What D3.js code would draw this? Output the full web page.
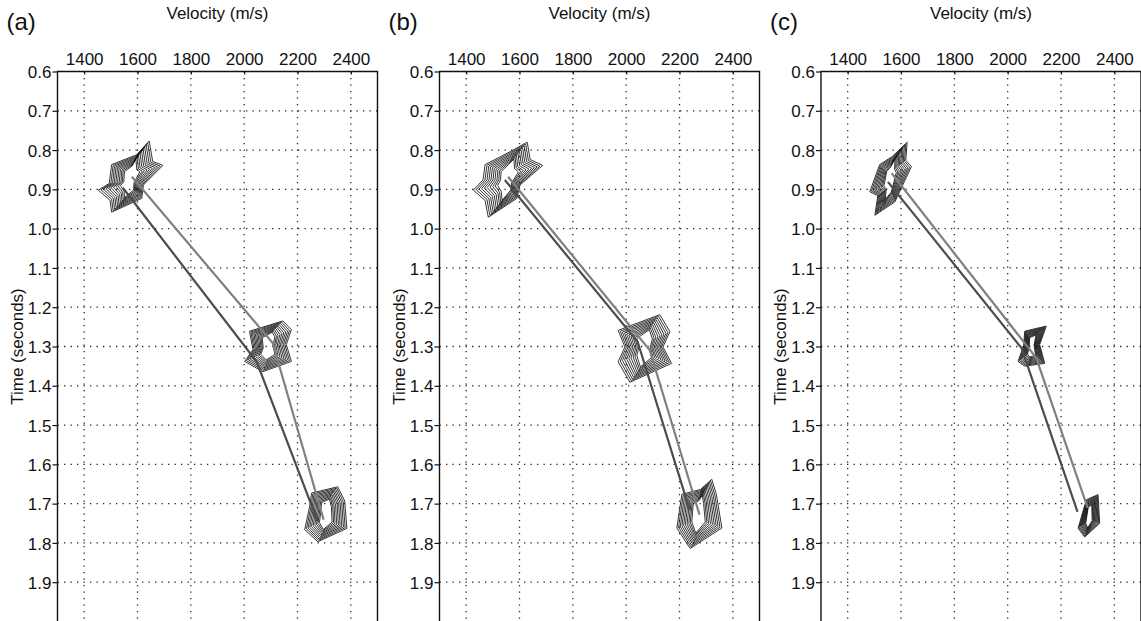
<!DOCTYPE html>
<html>
<head>
<meta charset="utf-8">
<script src="https://cdn.jsdelivr.net/npm/d3@7"></script>
<style>
  html, body { margin: 0; padding: 0; background: #fff; }
  svg { display: block; }
  text { font-family: "Liberation Sans", Arial, Helvetica, sans-serif; fill: #111; }
</style>
</head>
<body>
<svg id="chart" width="1141" height="621"></svg>
<script>
// ---- data ---------------------------------------------------------------
const panelLabels = ["(a)", "(b)", "(c)"];
const velocityTicks = [1400, 1600, 1800, 2000, 2200, 2400];
const timeTicks = [0.6, 0.7, 0.8, 0.9, 1.0, 1.1, 1.2, 1.3, 1.4, 1.5, 1.6, 1.7, 1.8, 1.9];
const velocityDomain = [1300, 2500];
const timeDomain = [0.6, 2.0];

// picked velocity functions (velocity m/s, time s): dark and light trace per panel
const darkPicksA  = [[1545, 0.896], [2047, 1.339], [2276, 1.746]];
const lightPicksA = [[1579, 0.868], [2107, 1.291], [2298, 1.741]];
const darkPicksB  = [[1545, 0.876], [2043, 1.288], [2238, 1.716]];
const lightPicksB = [[1557, 0.868], [2088, 1.309], [2275, 1.728]];
const darkPicksC  = [[1551, 0.881], [2052, 1.304], [2262, 1.721]];
const lightPicksC = [[1565, 0.859], [2107, 1.329], [2300, 1.711]];

// semblance peak centres (velocity, time) per panel
const peakCentresA = [[1572, 0.876], [2088, 1.298], [2306, 1.727]];
const peakCentresB = [[1557, 0.876], [2070, 1.304], [2270, 1.728]];
const peakCentresC = [[1558, 0.876], [2090, 1.298], [2305, 1.734]];

// outermost contour of each peak, as (dv, dt) offsets from its centre
const peakOutlinesA = [
  [[72,-0.099],[85,-0.047],[123,-0.037],[50,0.013],[44,0.047],[-69,0.082],[-75,0.052],[-119,0.026],[-78,0.009],[-69,-0.039],[25,-0.064]],
  [[-68,-0.037],[57,-0.063],[89,-0.041],[70,-0.003],[89,0.040],[-18,0.066],[-86,0.040],[-55,0.010]],
  [[-53,-0.054],[45,-0.070],[71,-0.034],[79,0.036],[-30,0.070],[-79,0.039],[-60,-0.021]]
];
const peakOutlinesB = [
  [[72,-0.096],[83,-0.052],[130,-0.037],[45,0.013],[33,0.047],[-74,0.095],[-86,0.052],[-130,0.026],[-94,0.000],[-86,-0.039],[8,-0.072]],
  [[-100,-0.045],[56,-0.085],[94,-0.042],[68,-0.003],[100,0.039],[-56,0.087],[-100,0.035],[-75,-0.003]],
  [[51,-0.090],[68,-0.052],[89,0.034],[-30,0.086],[-80,0.034],[-61,-0.052],[8,-0.064]]
];
const peakOutlinesC = [
  [[65,-0.096],[60,-0.050],[81,-0.034],[19,0.056],[-56,0.090],[-45,0.040],[-75,0.030],[-38,-0.039],[10,-0.060]],
  [[-26,-0.037],[55,-0.050],[30,-0.003],[49,0.045],[-26,0.052],[-51,0.040],[-30,0.000]],
  [[34,-0.057],[40,0.016],[-16,0.051],[-41,0.029],[-10,-0.044]]
];

// relative contour levels (horizontal / vertical shrink of each nested contour)
const contourScaleV = [1.00, 0.92, 0.84, 0.76, 0.68, 0.60, 0.52, 0.44, 0.37, 0.30];
const contourScaleT = [1.00, 0.95, 0.90, 0.85, 0.80, 0.75, 0.70, 0.65, 0.60, 0.55];

const panels = [
  { label: panelLabels[0], dark: darkPicksA, light: lightPicksA, centres: peakCentresA, outlines: peakOutlinesA },
  { label: panelLabels[1], dark: darkPicksB, light: lightPicksB, centres: peakCentresB, outlines: peakOutlinesB },
  { label: panelLabels[2], dark: darkPicksC, light: lightPicksC, centres: peakCentresC, outlines: peakOutlinesC }
];

// ---- layout -------------------------------------------------------------
const svg = d3.select("#chart");
const FONT = '"Liberation Sans", Arial, Helvetica, sans-serif';
const panelLeft = [57.5, 439.5, 821];
const plotTop = 71.5;
const plotW = 320;
const plotH = 550;

panels.forEach((p, i) => {
  const g = svg.append("g").attr("transform", `translate(${panelLeft[i]},${plotTop})`);
  const x = d3.scaleLinear().domain(velocityDomain).range([0, plotW]);
  const y = d3.scaleLinear().domain(timeDomain).range([0, plotH]);

  // dotted grid
  const grid = g.append("g").attr("stroke", "#222").attr("stroke-width", 1.3)
    .attr("stroke-dasharray", "1.3,5.2");
  grid.selectAll("line.v").data(velocityTicks).join("line")
    .attr("x1", d => x(d)).attr("x2", d => x(d)).attr("y1", 0).attr("y2", plotH);
  grid.selectAll("line.h").data(timeTicks.filter(t => t > timeDomain[0])).join("line")
    .attr("y1", d => y(d)).attr("y2", d => y(d)).attr("x1", 0).attr("x2", plotW);

  // semblance contours
  const cg = g.append("g").attr("fill", "none").attr("stroke", "#111").attr("stroke-width", 0.85)
    .attr("stroke-linejoin", "miter");
  p.centres.forEach((c, k) => {
    const outline = p.outlines[k];
    contourScaleV.forEach((sv, lvl) => {
      const st = contourScaleT[lvl];
      const pts = outline.map(o => [x(c[0] + o[0] * sv), y(c[1] + o[1] * st)]);
      cg.append("path").attr("d", d3.line().curve(d3.curveLinearClosed)(pts));
    });
  });

  // picked velocity traces
  const line = d3.line().x(d => x(d[0])).y(d => y(d[1]));
  g.append("path").datum(p.light).attr("d", line)
    .attr("fill", "none").attr("stroke", "#808080").attr("stroke-width", 2.2);
  g.append("path").datum(p.dark).attr("d", line)
    .attr("fill", "none").attr("stroke", "#4d4d4d").attr("stroke-width", 2.2);

  // frame
  g.append("path").attr("d", `M0,${plotH}V0H${plotW}V${plotH}`)
    .attr("fill", "none").attr("stroke", "#111").attr("stroke-width", 1.4);

  // axes
  const top = g.append("g").call(d3.axisTop(x).tickValues(velocityTicks)
    .tickFormat(d3.format("d")).tickSize(-3).tickPadding(7));
  const left = g.append("g").call(d3.axisLeft(y).tickValues(timeTicks)
    .tickFormat(d3.format(".1f")).tickSize(5).tickPadding(1));
  [top, left].forEach(a => {
    a.select(".domain").remove();
    a.attr("font-size", null).attr("font-family", null);
    a.selectAll("line").attr("stroke", "#111").attr("stroke-width", 1.2);
    a.selectAll("text").attr("fill", "#111")
      .style("font-size", "17px").style("font-family", FONT);
  });
  left.selectAll("text").attr("dy", "0.36em");

  // titles
  svg.append("text").attr("x", panelLeft[i] + plotW / 2).attr("y", 19)
    .attr("text-anchor", "middle").style("font-size", "17px").style("font-family", FONT)
    .text("Velocity (m/s)");
  svg.append("text").attr("x", panelLeft[i] - 51).attr("y", 30)
    .style("font-size", "24px").style("font-family", FONT).text(p.label);
  svg.append("text")
    .attr("transform", `translate(${panelLeft[i] - 35},${plotTop + 275}) rotate(-90)`)
    .attr("text-anchor", "middle").style("font-size", "17px").style("font-family", FONT)
    .text("Time (seconds)");
});
</script>
</body>
</html>
